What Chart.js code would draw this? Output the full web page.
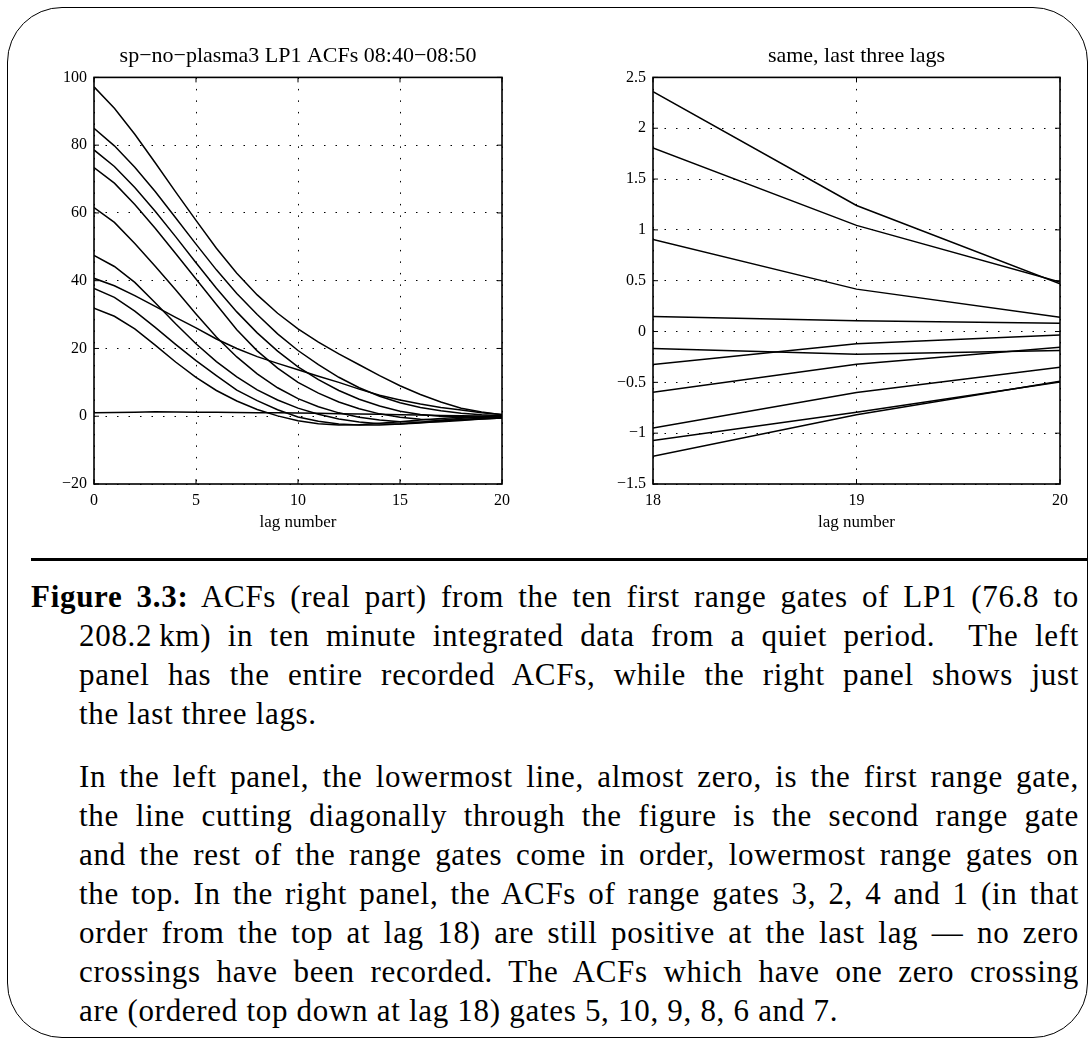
<!DOCTYPE html>
<html>
<head>
<meta charset="utf-8">
<title>LP1 ACFs 08:40-08:50</title>
<script src="https://cdn.jsdelivr.net/npm/chart.js@4.4.1/dist/chart.umd.min.js"></script>
<style>
  html, body { margin: 0; padding: 0; background: #fff; }
  body {
    width: 1091px; height: 1040px; position: relative; overflow: hidden;
    font-family: "Liberation Serif", "DejaVu Serif", serif; color: #000;
  }
  .frame {
    position: absolute; left: 7px; top: 7px; width: 1081px; height: 1031px;
    border: 1.5px solid #000; border-radius: 55px; box-sizing: border-box;
  }
  #leftChart { position: absolute; left: 20px; top: 20px; }
  #rightChart { position: absolute; left: 579px; top: 20px; }
  .rule { position: absolute; left: 31px; width: 1057px; top: 558px; height: 3px; background: #000; }
  .caption { position: absolute; left: 31px; width: 1048px; font-size: 31px; line-height: 39px; letter-spacing: 0.7px; }
  .caption div { text-align: justify; text-align-last: justify; white-space: nowrap; }
  .caption div.last { text-align-last: left; }
  .caption .ind { padding-left: 48px; }
  #para1 { top: 577px; }
  #para2 { top: 757px; }
</style>
</head>
<body>
<div class="frame"></div>
<canvas id="leftChart" width="500" height="520"></canvas>
<canvas id="rightChart" width="500" height="520"></canvas>
<div class="rule"></div>
<div class="caption" id="para1">
  <div><b>Figure 3.3:</b> ACFs (real part) from the ten first range gates of LP1 (76.8 to</div>
  <div class="ind">208.2&#8201;km) in ten minute integrated data from a quiet period. &nbsp;The left</div>
  <div class="ind">panel has the entire recorded ACFs, while the right panel shows just</div>
  <div class="ind last">the last three lags.</div>
</div>
<div class="caption" id="para2">
  <div class="ind">In the left panel, the lowermost line, almost zero, is the first range gate,</div>
  <div class="ind">the line cutting diagonally through the figure is the second range gate</div>
  <div class="ind">and the rest of the range gates come in order, lowermost range gates on</div>
  <div class="ind">the top. In the right panel, the ACFs of range gates 3, 2, 4 and 1 (in that</div>
  <div class="ind">order from the top at lag 18) are still positive at the last lag &mdash; no zero</div>
  <div class="ind">crossings have been recorded. The ACFs which have one zero crossing</div>
  <div class="ind last">are (ordered top down at lag 18) gates 5, 10, 9, 8, 6 and 7.</div>
</div>
<script>
// lag numbers 0..20
const lags = [0, 1, 2, 3, 4, 5, 6, 7, 8, 9, 10, 11, 12, 13, 14, 15, 16, 17, 18, 19, 20];

// real part of the ACF per range gate
const gate1  = [1.0, 1.1, 1.2, 1.3, 1.25, 1.2, 1.15, 1.1, 1.05, 1.0, 0.95, 0.85, 0.75, 0.65, 0.55, 0.45, 0.35, 0.25, 0.148, 0.105, 0.082];
const gate2  = [40.7, 38.5, 35.6, 32.4, 29.2, 26.1, 22.8, 20.0, 17.6, 15.6, 13.7, 11.8, 10.0, 8.0, 6.2, 4.8, 3.6, 2.6, 1.805, 1.044, 0.486];
const gate3  = [97.2, 90.9, 83.2, 74.8, 66.2, 57.8, 49.6, 42.2, 35.8, 30.4, 25.8, 21.9, 18.4, 15.2, 12.0, 9.0, 6.4, 4.2, 2.36, 1.24, 0.469];
const gate4  = [85.0, 79.8, 73.5, 66.3, 58.6, 50.8, 43.2, 36.2, 30.0, 24.3, 19.4, 15.2, 11.5, 8.4, 5.9, 4.0, 2.6, 1.6, 0.906, 0.417, 0.141];
const gate5  = [78.6, 73.7, 67.5, 60.5, 53.0, 45.3, 37.8, 30.8, 24.6, 19.2, 14.6, 10.8, 7.6, 5.0, 3.0, 1.5, 0.5, 0.0, -0.167, -0.223, -0.187];
const gate6  = [73.4, 68.8, 62.5, 55.5, 48.0, 40.5, 33.0, 25.5, 19.3, 14.2, 10.0, 6.8, 4.2, 2.2, 0.7, -0.3, -0.9, -1.15, -1.072, -0.793, -0.497];
const gate7  = [61.6, 57.2, 51.0, 44.3, 37.3, 30.2, 23.4, 17.5, 12.5, 8.4, 5.2, 2.8, 1.0, -0.3, -1.1, -1.6, -1.8, -1.6, -1.227, -0.819, -0.49];
const gate8  = [47.5, 44.2, 39.5, 33.5, 27.3, 21.4, 16.1, 11.6, 7.8, 4.8, 2.4, 0.6, -0.8, -1.7, -2.2, -2.3, -2.0, -1.5, -0.948, -0.60, -0.351];
const gate9  = [37.7, 35.1, 31.0, 26.2, 21.2, 16.4, 12.0, 7.7, 4.6, 1.9, -0.2, -1.5, -2.3, -2.6, -2.6, -2.3, -1.8, -1.2, -0.597, -0.322, -0.154];
const gate10 = [31.9, 29.5, 25.8, 21.0, 16.0, 11.5, 7.6, 4.5, 2.0, 0.1, -1.3, -2.2, -2.6, -2.5, -2.1, -1.6, -1.1, -0.65, -0.325, -0.121, -0.033];
const gates = [gate1, gate2, gate3, gate4, gate5, gate6, gate7, gate8, gate9, gate10];

// tick labels
const leftXTicks = [0, 5, 10, 15, 20];
const leftYTicks = [-20, 0, 20, 40, 60, 80, 100];
const rightXTicks = [18, 19, 20];
const rightYTicks = [-1.5, -1, -0.5, 0, 0.5, 1, 1.5, 2, 2.5];

const SERIF = "'Liberation Serif', 'DejaVu Serif', serif";
Chart.defaults.color = '#000';
Chart.defaults.font.family = SERIF;

// box round the plot area, with small inward tick marks on all four sides
const boxPlugin = {
    id: 'box',
    afterDatasetsDraw(chart) {
        const { ctx, chartArea: a, scales: { x, y } } = chart;
        ctx.save();
        ctx.strokeStyle = '#000';
        ctx.lineWidth = 1;
        ctx.beginPath();
        x.ticks.forEach(t => {
            const px = x.getPixelForValue(t.value);
            ctx.moveTo(px, a.bottom); ctx.lineTo(px, a.bottom - 5);
            ctx.moveTo(px, a.top); ctx.lineTo(px, a.top + 5);
        });
        y.ticks.forEach(t => {
            const py = y.getPixelForValue(t.value);
            ctx.moveTo(a.left, py); ctx.lineTo(a.left + 5, py);
            ctx.moveTo(a.right, py); ctx.lineTo(a.right - 5, py);
        });
        ctx.stroke();
        ctx.lineWidth = 1.6;
        ctx.strokeRect(a.left, a.top, a.right - a.left, a.bottom - a.top);
        ctx.restore();
    }
};

function fmt(v) {
    return String(v).replace('-', '\u2212');
}

function makeChart(id, title, xTicks, yTicks, padRight) {
    const from = xTicks[0];
    const datasets = gates.map((g, i) => ({
        label: 'gate ' + (i + 1),
        data: lags.map((l, k) => ({ x: l, y: g[k] })).filter(p => p.x >= from),
        borderColor: '#000',
        borderWidth: 1.5,
        pointRadius: 0,
        tension: 0,
        fill: false
    }));

    const grid = { color: '#000', lineWidth: 1, drawTicks: false };
    const border = { display: false, dash: [1.5, 10] };

    return new Chart(document.getElementById(id), {
        type: 'line',
        data: { datasets: datasets },
        plugins: [boxPlugin],
        options: {
            responsive: false,
            animation: false,
            layout: { padding: { left: 0, right: padRight, top: 0, bottom: 0 } },
            plugins: {
                legend: { display: false },
                tooltip: { enabled: false },
                title: {
                    display: true,
                    text: title,
                    fullSize: false,
                    font: { family: SERIF, size: 22, weight: 'normal' },
                    padding: { top: 23, bottom: 8 }
                }
            },
            scales: {
                x: {
                    type: 'linear',
                    min: xTicks[0],
                    max: xTicks[xTicks.length - 1],
                    afterBuildTicks: s => { s.ticks = xTicks.map(v => ({ value: v })); },
                    afterFit: s => { s.height = 56; },
                    grid: grid,
                    border: border,
                    ticks: { font: { family: SERIF, size: 16 }, padding: 7, maxRotation: 0, callback: fmt },
                    title: { display: true, text: 'lag number', font: { family: SERIF, size: 17 }, padding: { top: 0, bottom: 7 } }
                },
                y: {
                    type: 'linear',
                    min: yTicks[0],
                    max: yTicks[yTicks.length - 1],
                    afterBuildTicks: s => { s.ticks = yTicks.map(v => ({ value: v })); },
                    afterFit: s => { s.width = 74; },
                    grid: grid,
                    border: border,
                    ticks: { font: { family: SERIF, size: 16 }, padding: 7, callback: fmt }
                }
            }
        }
    });
}

makeChart('leftChart', 'sp\u2212no\u2212plasma3 LP1 ACFs 08:40\u221208:50', leftXTicks, leftYTicks, 18);
makeChart('rightChart', 'same, last three lags', rightXTicks, rightYTicks, 19);
</script>
</body>
</html>
